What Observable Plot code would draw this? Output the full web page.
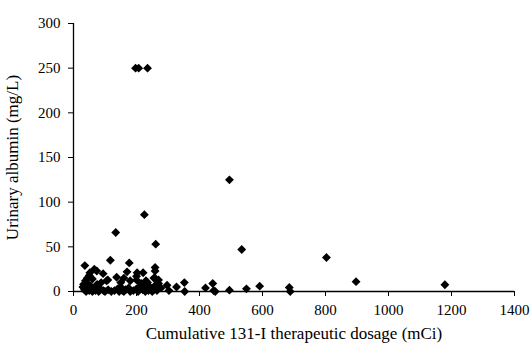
<!DOCTYPE html>
<html>
<head>
<meta charset="utf-8">
<script src="https://cdn.jsdelivr.net/npm/d3@7"></script>
<script src="https://cdn.jsdelivr.net/npm/@observablehq/plot@0.6"></script>
<style>
  html, body { margin: 0; padding: 0; background: #fff; }
  #chart { width: 530px; height: 352px; }
</style>
</head>
<body>
<div id="chart"></div>
<script>
// Cumulative 131-I therapeutic dosage (mCi)
const dosage = [
  197, 207, 235, 495, 225, 134, 261, 534, 803, 897, 1179,
  36, 117, 177, 259, 259, 259, 202, 221, 170, 200, 137, 109, 94, 66, 74, 52, 44, 38, 31,
  297, 327, 352, 353, 303, 419, 442, 445, 450, 495, 549, 591, 685, 688,
  30, 32, 35, 40, 42, 45, 50, 55, 60, 65, 70, 75, 80, 85, 95, 100, 110, 120, 130, 140,
  145, 150, 155, 160, 165, 175, 180, 190, 200, 205, 210, 215, 220, 222, 225, 228, 232,
  235, 238, 240, 245, 250, 255, 260, 265, 270, 278,
  50, 60, 88, 105, 150, 160, 180, 200, 230, 255, 270
];
// Urinary albumin (mg/L)
const albumin = [
  250, 250, 250, 125, 86, 66, 53, 47, 38, 11, 7.5,
  29, 35, 32, 27, 23, 15, 21, 21, 22, 13, 16, 13, 20, 25, 23, 21, 15, 12, 5,
  7, 5, 10, 0, 1, 4, 9, 1, 0, 1.5, 3, 6, 4.5, 0,
  5, 8, 2, 0, 10, 3, 1, 6, 0, 2, 1, 8, 0, 3, 1, 0, 2, 0, 1, 3,
  0, 5, 1, 0, 2, 4, 0, 1, 3, 0, 6, 9, 2, 5, 8, 0, 3,
  10, 1, 6, 4, 0, 2, 7, 1, 9, 4,
  18, 14, 10, 12, 10, 15, 12, 17, 12, 15, 13
];
const xTicks = [0, 200, 400, 600, 800, 1000, 1200, 1400];
const yTicks = [0, 50, 100, 150, 200, 250, 300];
const xTitle = ["Cumulative 131-I therapeutic dosage (mCi)"];
const yTitle = ["Urinary albumin (mg/L)"];

const data = dosage.map((d, i) => ({x: d, y: albumin[i]}));

const chart = Plot.plot({
  width: 530,
  height: 352,
  marginLeft: 73,
  marginRight: 16,
  marginTop: 23,
  marginBottom: 61,
  style: {fontFamily: "'Liberation Serif', 'Times New Roman', serif", fontSize: "15px", color: "#000", background: "#fff"},
  x: {domain: [0, 1400], ticks: xTicks},
  y: {domain: [0, 300], ticks: yTicks},
  marks: [
    Plot.axisX({ticks: xTicks, tickFormat: d => String(d), tickSize: 5, tickPadding: 8, fontSize: 15, label: null, stroke: "#000"}),
    Plot.axisY({ticks: yTicks, tickFormat: d => String(d), tickSize: 5, tickPadding: 8, fontSize: 15, label: null, stroke: "#000"}),
    Plot.ruleX([0], {y1: 0, y2: 300, stroke: "#000", strokeWidth: 1.3}),
    Plot.ruleY([0], {x1: 0, x2: 1400, stroke: "#000", strokeWidth: 1.3}),
    Plot.text(xTitle, {frameAnchor: "bottom", dy: 42, lineAnchor: "middle", textAnchor: "middle", fontSize: 17, fill: "#000"}),
    Plot.text(yTitle, {frameAnchor: "left", dx: -61, rotate: -90, lineAnchor: "middle", textAnchor: "middle", fontSize: 17, fill: "#000"}),
    Plot.dot(data, {x: "x", y: "y", symbol: "diamond2", r: 4, fill: "#000", stroke: "none"})
  ]
});
document.getElementById("chart").appendChild(chart);
</script>
</body>
</html>
